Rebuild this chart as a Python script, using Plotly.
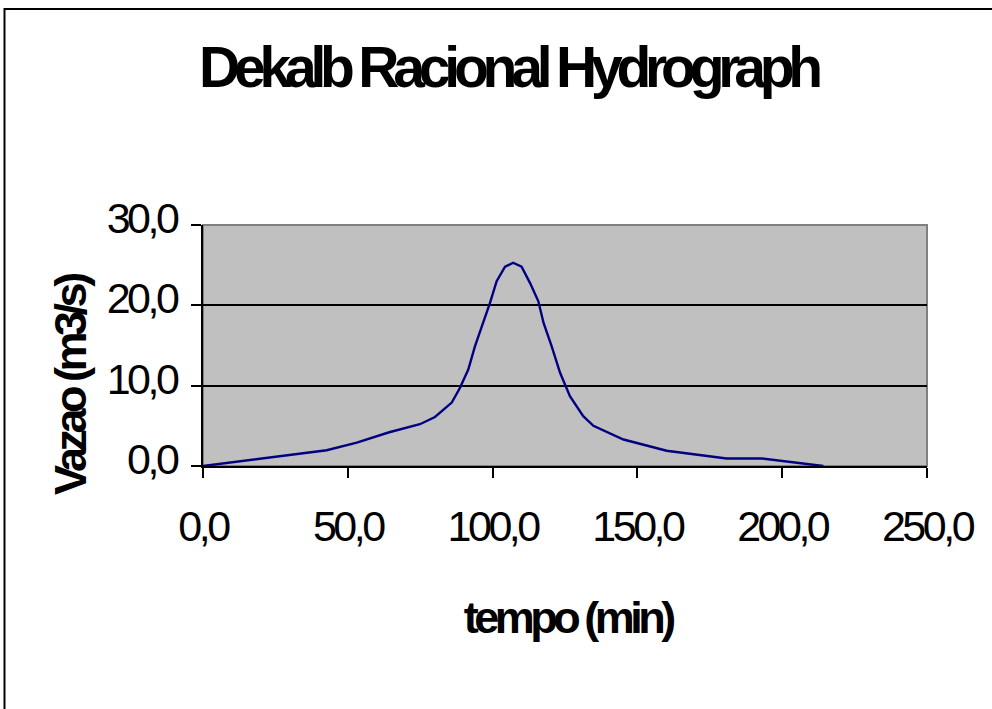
import plotly.graph_objects as go

# Hydrograph ordinates: time (min) and discharge (m3/s)
tempo_min = [0, 10.7, 21.3, 32.0, 42.7, 53.1, 64.3, 74.9, 80.1, 85.9, 88.7, 91.6,
             93.9, 99.1, 101.4, 104.3, 107.1, 110.0, 112.9, 115.8, 117.6, 120.4,
             123.3, 126.7, 131.3, 134.8, 145.2, 160.1, 180.8, 192.9, 214.2]
vazao_m3s = [0, 0.5, 1.0, 1.5, 1.96, 2.9, 4.2, 5.2, 6.1, 7.9, 9.7, 12.0,
             14.9, 20.3, 23.0, 24.8, 25.3, 24.8, 22.8, 20.5, 17.8, 14.9,
             11.6, 8.7, 6.2, 5.0, 3.3, 1.9, 0.93, 0.93, 0.0]

x_ticks = [0, 50, 100, 150, 200, 250]
x_tick_text = ["0,0", "50,0", "100,0", "150,0", "200,0", "250,0"]
y_ticks = [0, 10, 20, 30]
y_tick_text = ["0,0", "10,0", "20,0", "30,0"]

FONT = "Liberation Sans, Arial, sans-serif"

W, H = 992, 709
L, R, T, B = 203, 65, 225, 243
pw, ph = W - L - R, H - T - B


def px_x(x):
    return (x - L) / pw


def px_y(y):
    return (H - B - y) / ph


fig = go.Figure()
fig.add_trace(go.Scatter(
    x=tempo_min, y=vazao_m3s, mode="lines",
    line=dict(color="#000080", width=2.4), hoverinfo="skip",
))

axis_common = dict(
    showline=True, linecolor="black", linewidth=2,
    ticks="outside", ticklen=10, tickwidth=2, tickcolor="black",
    zeroline=False,
    tickfont=dict(family=FONT, size=43, color="black"),
)

fig.update_xaxes(
    range=[0, 250], tickvals=x_ticks, ticktext=x_tick_text,
    showgrid=False, ticklabelstandoff=11,
    **axis_common,
)
fig.update_yaxes(
    range=[0, 30], tickvals=y_ticks, ticktext=y_tick_text,
    showgrid=True, gridcolor="black", gridwidth=2,
    ticklabelstandoff=6, ticklabelshift=-7,
    **axis_common,
)

# Axis titles
fig.add_annotation(text="<b>tempo (min)</b>", xref="paper", yref="paper",
                   x=px_x(567), y=px_y(617), xanchor="center", yanchor="middle",
                   showarrow=False, font=dict(family=FONT, size=45, color="black"))
fig.add_annotation(text="<b>Vazao (m3/s)</b>", xref="paper", yref="paper",
                   x=px_x(70), y=px_y(386), xanchor="center", yanchor="middle",
                   textangle=-90, showarrow=False,
                   font=dict(family=FONT, size=45, color="black"))

# Grey frame on the top and right of the plot area
fig.add_shape(type="rect", xref="paper", yref="paper", x0=0, x1=1, y0=0, y1=1,
              line=dict(color="#808080", width=2), layer="below")

# Outer chart border
fig.add_shape(type="rect", xref="paper", yref="paper",
              x0=px_x(4.5), x1=px_x(W + 20), y0=px_y(H + 20), y1=px_y(9),
              line=dict(color="black", width=2))

fig.update_layout(
    width=W, height=H,
    margin=dict(l=L, r=R, t=T, b=B),
    paper_bgcolor="white", plot_bgcolor="#C0C0C0",
    showlegend=False,
    title=dict(text="<b>Dekalb Racional Hydrograph</b>",
               font=dict(family=FONT, size=57, color="black"),
               x=508 / W, xanchor="center", y=1 - 67 / H, yanchor="middle"),
)

# Tight character spacing for all chart text
tighten = """
var gd = document.getElementById('{plot_id}');
function tighten() {
  gd.querySelectorAll('.gtitle').forEach(function (t) { t.style.letterSpacing = '-6.2px'; });
  gd.querySelectorAll('.annotation-text').forEach(function (t) { t.style.letterSpacing = '-4.5px'; });
  gd.querySelectorAll('.xtick text, .ytick text').forEach(function (t) { t.style.letterSpacing = '-3.5px'; });
}
tighten();
gd.on('plotly_afterplot', tighten);
"""

fig.write_html("out.html", post_script=tighten)
